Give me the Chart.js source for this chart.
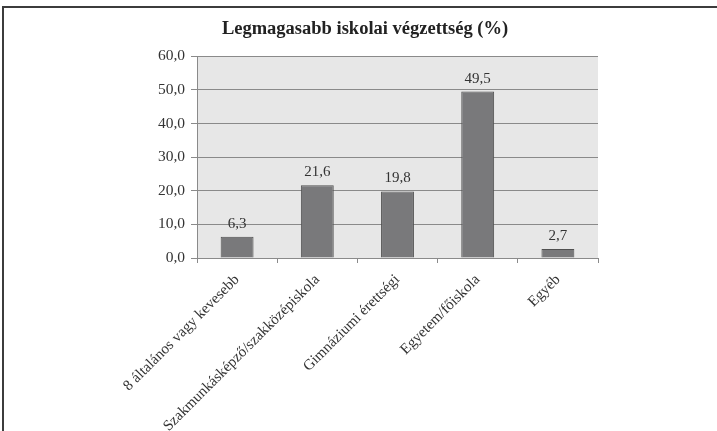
<!DOCTYPE html>
<html>
<head>
<meta charset="utf-8">
<script src="https://cdn.jsdelivr.net/npm/chart.js@4"></script>
<style>
  html, body { margin: 0; padding: 0; background: #fff; overflow: hidden; width: 717px; height: 431px; }
  #keret { position: absolute; left: 2px; top: 6px; width: 760px; height: 500px; border: 2px solid #3c3c3c; }
  #myChart { position: absolute; left: 0; top: 0; }
</style>
</head>
<body>
<div id="keret"></div>
<canvas id="myChart" width="730" height="470"></canvas>
<script>
// adatok
const kategoriak = ['8 általános vagy kevesebb', 'Szakmunkásképző/szakközépiskola', 'Gimnáziumi érettségi', 'Egyetem/főiskola', 'Egyéb'];
const ertekek = [6.3, 21.6, 19.8, 49.5, 2.7];
const cim = 'Legmagasabb iskolai végzettség (%)';
const yMin = 0, yMax = 60, yLepes = 10;

const szam = v => Number(v).toFixed(1).replace('.', ',');

// szurke hatter a rajzterulet mogott
const hatter = {
    id: 'hatter',
    beforeDraw(chart) {
        const a = chart.chartArea, ctx = chart.ctx;
        ctx.save();
        ctx.fillStyle = '#e7e7e7';
        ctx.fillRect(a.left, a.top, a.right - a.left, a.bottom - a.top);
        ctx.restore();
    }
};

// ertekek az oszlopok folott
const cimkek = {
    id: 'cimkek',
    afterDatasetsDraw(chart) {
        const ctx = chart.ctx;
        const meta = chart.getDatasetMeta(0);
        ctx.save();
        ctx.font = '15px "Liberation Serif", serif';
        ctx.fillStyle = '#333';
        ctx.textAlign = 'center';
        ctx.textBaseline = 'alphabetic';
        meta.data.forEach((bar, i) => {
            ctx.fillText(szam(ertekek[i]), bar.x, bar.y - 9);
        });
        ctx.restore();
    }
};

new Chart(document.getElementById('myChart'), {
    type: 'bar',
    data: {
        labels: kategoriak,
        datasets: [{
            data: ertekek,
            backgroundColor: '#79797b',
            borderColor: '#505050',
            borderWidth: 1,
            barPercentage: 0.41,
            categoryPercentage: 1
        }]
    },
    options: {
        responsive: false,
        animation: false,
        layout: { padding: 0 },
        plugins: {
            legend: { display: false },
            tooltip: { enabled: false },
            title: {
                display: true,
                text: cim,
                color: '#222',
                font: { family: '"Liberation Serif", serif', size: 18.5, weight: 'bold', lineHeight: 1.2 },
                padding: { top: 18, bottom: 16 }
            }
        },
        scales: {
            x: {
                grid: { offset: true, drawOnChartArea: false, drawTicks: true, tickLength: 5, color: '#8a8a8a' },
                border: { display: true, color: '#8a8a8a', width: 1 },
                ticks: {
                    color: '#333',
                    font: { family: '"Liberation Serif", serif', size: 15 },
                    minRotation: 45, maxRotation: 45, autoSkip: false, padding: 8
                },
                afterFit(scale) { scale.height = 212; }
            },
            y: {
                min: yMin, max: yMax,
                grid: { color: '#8a8a8a', tickLength: 6, lineWidth: 1 },
                border: { display: true, color: '#8a8a8a', width: 1 },
                ticks: {
                    stepSize: yLepes,
                    color: '#333',
                    padding: 6,
                    font: { family: '"Liberation Serif", serif', size: 15.5 },
                    callback: v => szam(v)
                },
                afterFit(scale) { scale.width = 197; }
            },
            jobb: {
                position: 'right',
                display: true,
                grid: { display: false, drawTicks: false },
                border: { display: false },
                ticks: { display: false },
                afterFit(scale) { scale.width = 132; }
            }
        }
    },
    plugins: [hatter, cimkek]
});
</script>
</body>
</html>
